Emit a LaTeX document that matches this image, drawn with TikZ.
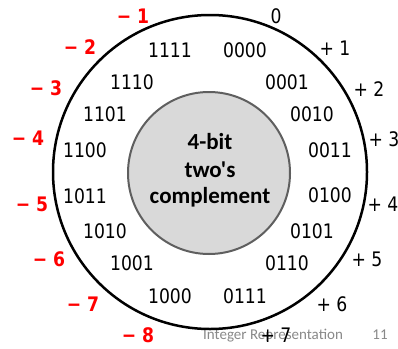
\documentclass[tikz,border=0pt]{standalone}
\usepackage{fontspec}
\newfontfamily\binfont[FakeStretch=0.86]{DejaVu Sans}
\newfontfamily\calfont{Carlito}
\definecolor{labred}{RGB}{255,0,0}
\definecolor{innerfill}{RGB}{217,217,217}
\definecolor{innerline}{RGB}{95,95,95}
\definecolor{footgray}{RGB}{137,137,137}
\begin{document}
\begin{tikzpicture}[x=1pt,y=-1pt,
  bin/.style={font=\binfont\fontsize{20}{24}\selectfont, inner sep=0pt, anchor=center},
  poslab/.style={font=\binfont\fontsize{20}{24}\selectfont, inner sep=0pt, anchor=center},
  neglab/.style={font=\binfont\bfseries\fontsize{20}{24}\selectfont, text=labred, inner sep=0pt, anchor=center},
  title/.style={font=\calfont\bfseries\fontsize{23}{27}\selectfont, inner sep=0pt, anchor=base},
  foot/.style={font=\calfont\fontsize{15}{18}\selectfont, text=footgray, inner sep=0pt}]
\useasboundingbox (0,0) rectangle (398,348);
\fill[white] (0,0) rectangle (398,348);
% footer (behind)
\node[foot, anchor=base west] (ft) at (203,339) {Integer Representation};
\node[foot, anchor=base] (pg) at (380,339) {11};
% circles
\draw[line width=2.5pt] (210,172) circle[radius=157pt];
\draw[line width=2pt, draw=innerline, fill=innerfill] (209,173) circle[radius=81pt];
\node[title] (t1) at (210,149) {4-bit};
\node[title] (t2) at (210,177) {two's};
\node[title] (t3) at (210,203) {complement};
% binary codes
\node[bin] (b0)  at (245,50)  {0000};
\node[bin] (b1)  at (287,82)  {0001};
\node[bin] (b2)  at (312,114) {0010};
\node[bin] (b3)  at (330,150) {0011};
\node[bin] (b4)  at (330,195) {0100};
\node[bin] (b5)  at (312,231) {0101};
\node[bin] (b6)  at (287,263) {0110};
\node[bin] (b7)  at (245,296) {0111};
\node[bin] (b8)  at (170,296) {1000};
\node[bin] (b9)  at (132,263) {1001};
\node[bin] (b10) at (105,231) {1010};
\node[bin] (b11) at (85,196)  {1011};
\node[bin] (b12) at (85,150)  {1100};
\node[bin] (b13) at (105,114) {1101};
\node[bin] (b14) at (132,82)  {1110};
\node[bin] (b15) at (170,50)  {1111};
% positive values
\node[poslab] (p0) at (276,16)  {0};
\node[poslab] (p1) at (335,48)  {+ 1};
\node[poslab] (p2) at (369,89)  {+ 2};
\node[poslab] (p3) at (384,139) {+ 3};
\node[poslab] (p4) at (383,204) {+ 4};
\node[poslab] (p5) at (367,259) {+ 5};
\node[poslab] (p6) at (332,304) {+ 6};
\node[poslab] (p7) at (276,335) {+ 7};
% negative values
\node[neglab] (n1) at (133,16)  {− 1};
\node[neglab] (n2) at (80,47)   {− 2};
\node[neglab] (n3) at (46,88)   {− 3};
\node[neglab] (n4) at (28,138)  {− 4};
\node[neglab] (n5) at (32,204)  {− 5};
\node[neglab] (n6) at (49,259)  {− 6};
\node[neglab] (n7) at (83,304)  {− 7};
\node[neglab] (n8) at (138,335) {− 8};
\end{tikzpicture}
\end{document}
